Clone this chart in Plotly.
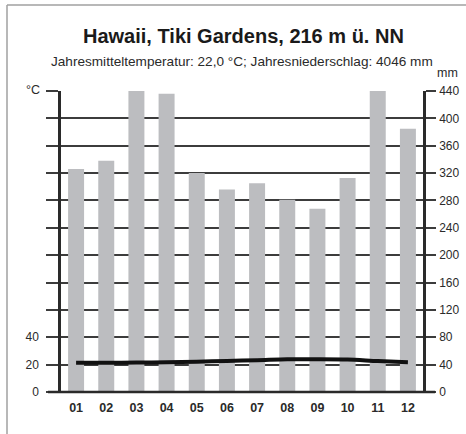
import plotly.graph_objects as go

months = ["01", "02", "03", "04", "05", "06", "07", "08", "09", "10", "11", "12"]
precip_mm = [326, 338, 443, 436, 320, 296, 305, 281, 268, 313, 445, 385]
temp_c = [21.4, 21.3, 21.5, 21.8, 22.2, 22.7, 23.2, 23.9, 24.0, 23.8, 22.6, 21.7]
mm_ticks = list(range(0, 441, 40))
c_ticks = list(range(0, 221, 20))
c_labels = ["0", "20", "40"] + [""] * (len(c_ticks) - 3)

title = "Hawaii, Tiki Gardens, 216 m ü. NN"
subtitle = "Jahresmitteltemperatur: 22,0 °C; Jahresniederschlag: 4046 mm"

FONT = "Liberation Sans, Arial, Helvetica, sans-serif"
DARK = "#2a2a2a"
GRID = "#3c3c3c"

W, H = 466, 434
L, R, T, B = 61, 43, 91, 42
pw = W - L - R
ph = H - T - B

def px_x(px):
    return (px - L) / pw

def px_y(py):
    return (H - B - py) / ph

fig = go.Figure()
fig.add_trace(go.Bar(
    x=months, y=precip_mm, yaxis="y",
    marker=dict(color="#bcbdc0", line=dict(width=0)),
    width=0.53, showlegend=False, hoverinfo="skip",
))
fig.add_trace(go.Scatter(
    x=months, y=temp_c, yaxis="y2", mode="lines",
    line=dict(color="#111111", width=4, shape="spline", smoothing=0.8),
    showlegend=False, hoverinfo="skip",
))

fig.update_layout(
    width=W, height=H,
    margin=dict(l=L, r=R, t=T, b=B, pad=0, autoexpand=False),
    paper_bgcolor="white", plot_bgcolor="white",
    font=dict(family=FONT, color=DARK, size=12),
    xaxis=dict(
        type="category", range=[-0.5, 11.5],
        showgrid=False, zeroline=False, showline=False, ticks="",
        tickfont=dict(family=FONT, size=12.5, color=DARK, weight="bold"),
        ticklabelstandoff=6,
    ),
    yaxis=dict(
        side="right", range=[0, 440], tickvals=mm_ticks,
        showgrid=True, gridcolor=GRID, gridwidth=1.5,
        zeroline=False,
        showline=True, linecolor=DARK, linewidth=2.5,
        ticks="outside", ticklen=10, tickcolor=GRID, tickwidth=1.5,
        tickfont=dict(family=FONT, size=12, color=DARK),
        ticklabelstandoff=1,
    ),
    yaxis2=dict(
        overlaying="y", side="left", range=[0, 220],
        tickvals=c_ticks, ticktext=c_labels,
        showgrid=False, zeroline=False,
        showline=True, linecolor=DARK, linewidth=2.5,
        ticks="outside", ticklen=12, tickcolor=GRID, tickwidth=1.5,
        tickfont=dict(family=FONT, size=12, color=DARK),
        ticklabelstandoff=5,
    ),
    shapes=[
        dict(type="line", xref="paper", yref="paper",
             x0=px_x(48), x1=px_x(435), y0=0, y1=0,
             line=dict(color=DARK, width=2.5), layer="above"),
        dict(type="line", xref="paper", yref="paper",
             x0=px_x(7), x1=px_x(7), y0=px_y(5), y1=px_y(440),
             line=dict(color="#a0a0a0", width=1.5)),
        dict(type="line", xref="paper", yref="paper",
             x0=px_x(7), x1=px_x(470), y0=px_y(5), y1=px_y(5),
             line=dict(color="#a0a0a0", width=1.5)),
    ],
    annotations=[
        dict(text="<b>" + title + "</b>", xref="paper", yref="paper",
             x=px_x(243), y=px_y(36), showarrow=False,
             xanchor="center", yanchor="middle",
             font=dict(family=FONT, size=20, color="#1a1a1a")),
        dict(text=subtitle, xref="paper", yref="paper",
             x=px_x(242), y=px_y(61), showarrow=False,
             xanchor="center", yanchor="middle",
             font=dict(family=FONT, size=13.6, color=DARK)),
        dict(text="°C", xref="paper", yref="paper",
             x=px_x(33), y=px_y(90), showarrow=False,
             xanchor="center", yanchor="middle",
             font=dict(family=FONT, size=12.5, color=DARK)),
        dict(text="mm", xref="paper", yref="paper",
             x=px_x(447), y=px_y(73), showarrow=False,
             xanchor="center", yanchor="middle",
             font=dict(family=FONT, size=12.5, color=DARK)),
    ],
)

fig.write_html(
    "out.html",
    config={"displayModeBar": False},
    post_script="document.body.style.margin='0';document.body.style.overflow='hidden';",
)
